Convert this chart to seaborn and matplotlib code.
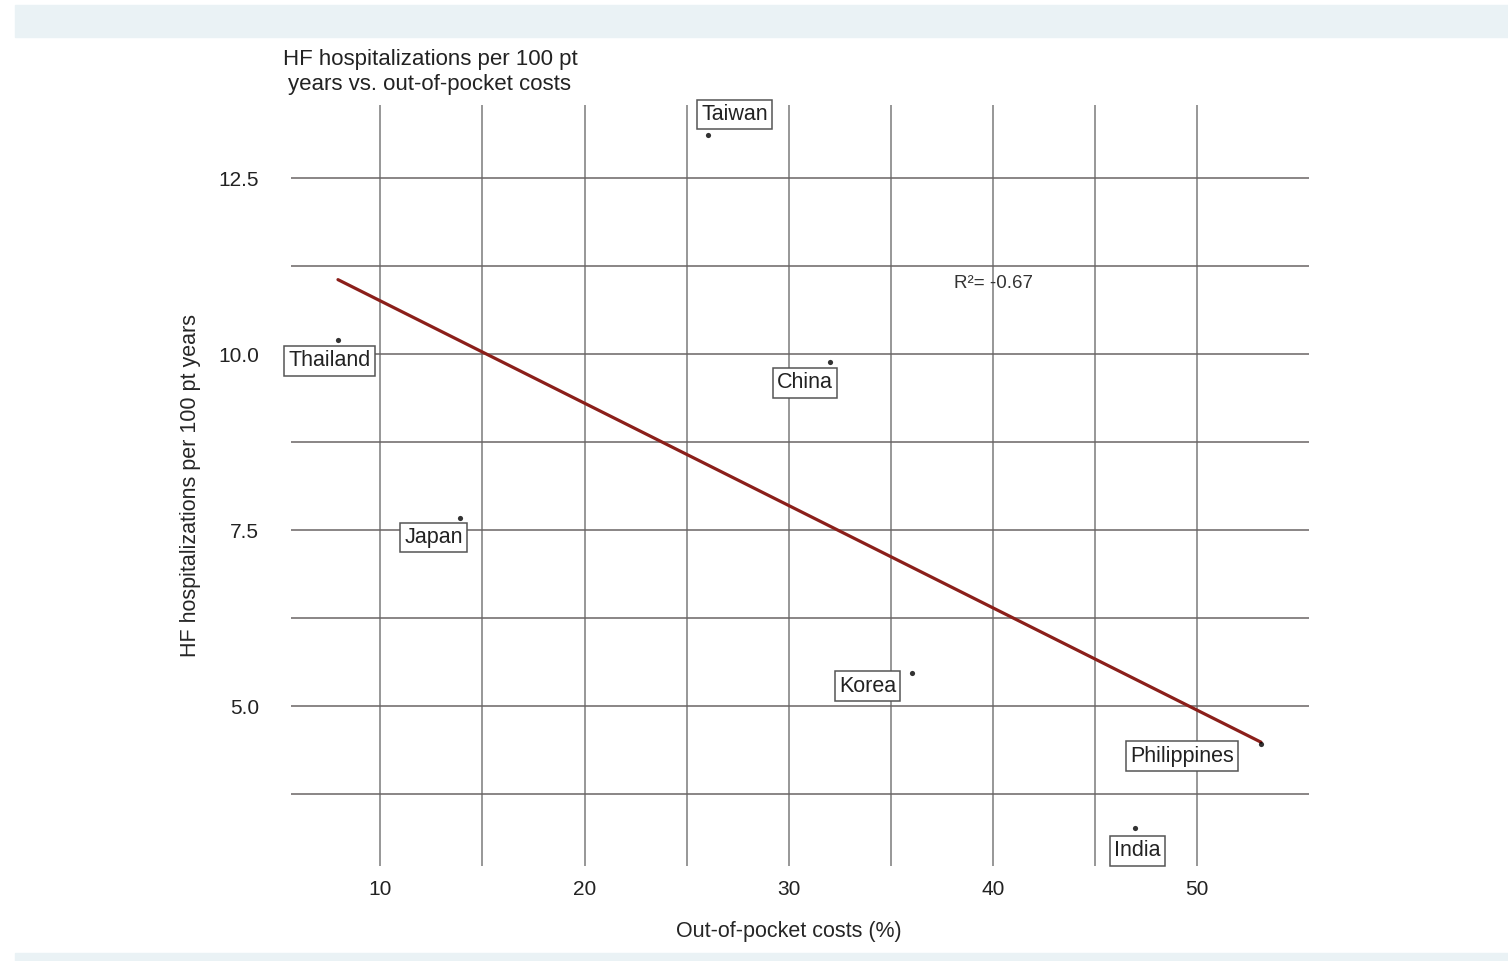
import numpy as np
import pandas as pd
import matplotlib
matplotlib.use("Agg")
import matplotlib.pyplot as plt
from matplotlib.ticker import MultipleLocator
from matplotlib.patches import Rectangle
import seaborn as sns

countries = ["Taiwan", "Thailand", "China", "Japan", "Korea", "Philippines", "India"]
oop_costs = [26.05, 7.93, 32.02, 13.9, 36.03, 53.12, 46.95]
hf_rates = [13.11, 10.2, 9.89, 7.68, 5.47, 4.46, 3.27]
r2_label = "R\u00b2= -0.67"

# label offsets in points (label centre relative to dot)
label_offsets = [(19, 15), (-6, -15), (-18, -15), (-19, -14.5), (-32, -9.5), (-57, -8.5), (1.5, -16.5)]

df = pd.DataFrame({"country": countries, "oop": oop_costs, "hf": hf_rates})

sns.set_theme(style="white")
plt.rcParams["font.family"] = ["Liberation Sans", "DejaVu Sans"]
plt.rcParams["text.color"] = "#222222"

fig = plt.figure(figsize=(15.08, 9.61), dpi=100)
ax = fig.add_axes([291 / 1508, 1 - 866 / 961, 1018 / 1508, 761 / 961])

band = "#eaf2f5"
fig.patches.append(Rectangle((15 / 1508, 1 - 37 / 961), 1, 32 / 961,
                             transform=fig.transFigure, color=band, zorder=0))
fig.patches.append(Rectangle((15 / 1508, 0), 1, 8 / 961,
                             transform=fig.transFigure, color=band, zorder=0))

sns.regplot(data=df, x="oop", y="hf", ax=ax, ci=None,
            scatter_kws={"s": 14, "color": "black", "zorder": 4, "linewidths": 0},
            line_kws={"color": "#8b1f1a", "lw": 2.3, "zorder": 3})

ax.set_xlim(5.63, 55.47)
ax.set_ylim(2.73, 13.54)
ax.set_xticks([10, 20, 30, 40, 50])
ax.set_xticks([15, 25, 35, 45], minor=True)
ax.yaxis.set_major_locator(MultipleLocator(2.5))
ax.yaxis.set_minor_locator(MultipleLocator(1.25))
ax.grid(True, which="both", axis="x", color="#8f8f8f", lw=1.3)
ax.grid(True, which="both", axis="y", color="#6a6464", lw=1.1)
ax.set_axisbelow(True)
for s in ax.spines.values():
    s.set_visible(False)
ax.tick_params(axis="both", which="both", length=0, labelsize=15, colors="#222222")
ax.tick_params(axis="y", pad=23)
ax.tick_params(axis="x", pad=10)
ax.set_yticks([5.0, 7.5, 10.0, 12.5])
ax.set_yticklabels(["5.0", "7.5", "10.0", "12.5"])

for name, x, y, off in zip(countries, oop_costs, hf_rates, label_offsets):
    ax.annotate(name, xy=(x, y), xytext=off, textcoords="offset points",
                ha="center", va="center", fontsize=15.5, zorder=5,
                bbox=dict(boxstyle="square,pad=0.2", fc="white", ec="#555555", lw=1.1))

ax.text(40, 11.01, r2_label, ha="center", va="center", fontsize=13.5, color="#333333")

ax.set_xlabel("Out-of-pocket costs (%)", fontsize=15.5)
ax.set_ylabel("HF hospitalizations per 100 pt years", fontsize=15.5)
ax.xaxis.set_label_coords((789 - 291) / 1018, -(921 - 866) / 761)
ax.yaxis.set_label_coords(-(291 - 201) / 1018, 0.5)

fig.text(430 / 1508, 1 - 72 / 961, "HF hospitalizations per 100 pt\nyears vs. out-of-pocket costs",
         ha="center", va="center", fontsize=16, linespacing=1.3)

fig.savefig("out.png", dpi=100, facecolor="white")
